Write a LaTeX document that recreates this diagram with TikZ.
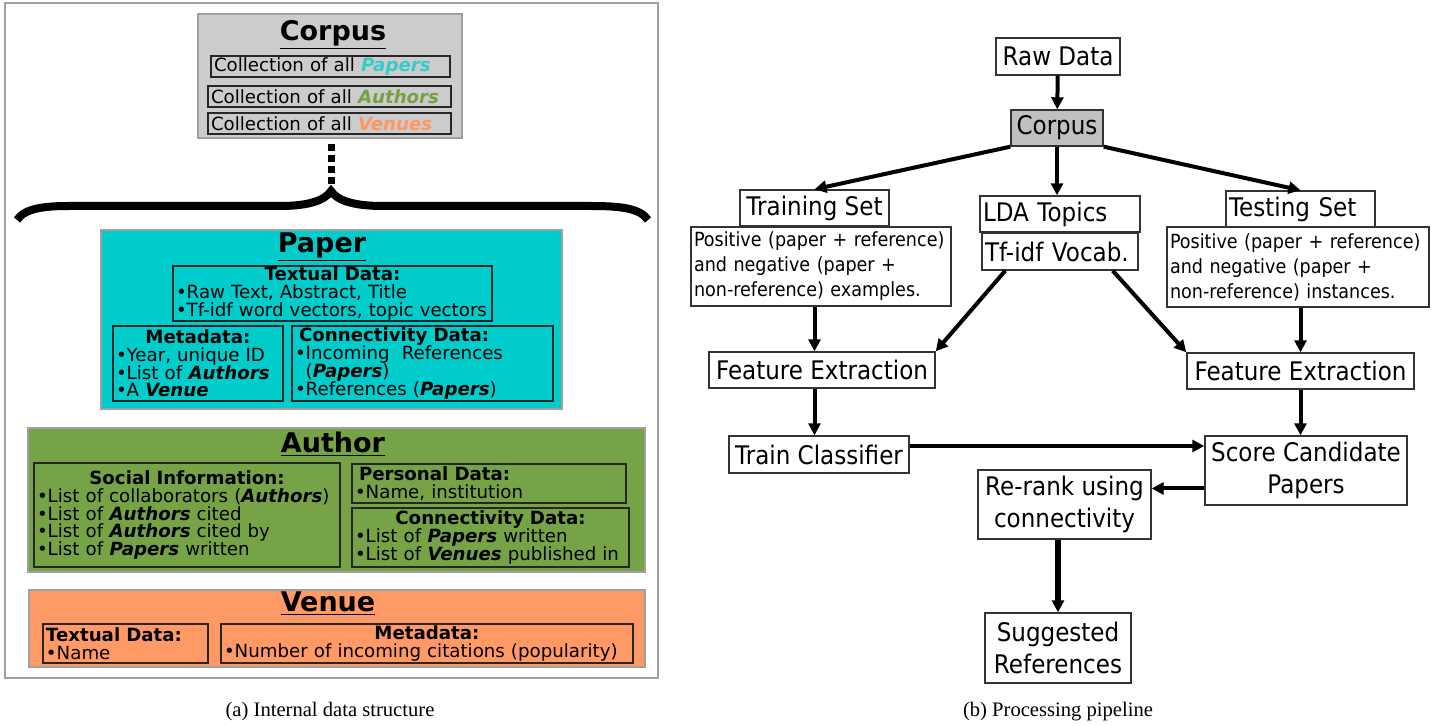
\documentclass[tikz,border=0pt]{standalone}
\usepackage{fontspec}
\setmainfont{DejaVu Sans}
\newfontfamily\pipefont[FakeStretch=0.9]{DejaVu Sans}
\newfontfamily\capfont{Liberation Serif}
\usetikzlibrary{arrows.meta, positioning, calc}
\definecolor{CG}{RGB}{204,204,204}
\definecolor{PC}{RGB}{0,204,204}
\definecolor{AG}{RGB}{119,163,71}
\definecolor{VO}{RGB}{255,153,102}
\definecolor{FG}{RGB}{160,160,160}
\definecolor{PG}{RGB}{192,192,192}
\definecolor{TC}{RGB}{51,204,204}
\definecolor{TG}{RGB}{119,160,70}
\definecolor{TO}{RGB}{255,150,100}
\newcommand\cellhead[1]{\makebox[\linewidth]{\bfseries #1}}
\newcommand\bline[1]{\mbox{•#1}}
\newcommand\emw[1]{\textbf{\textit{#1}}}

\begin{document}
\begin{tikzpicture}[x=0.5pt, y=-0.5pt,
  frame/.style={draw=FG, line width=0.8pt, inner sep=0pt},
  cell/.style={draw=black!85, line width=0.7pt, inner xsep=1.5pt, inner ysep=0pt,
               align=left, font=\fontsize{9.1}{8.9}\selectfont},
  ttl/.style={inner sep=0pt, font=\fontsize{13.5}{15}\selectfont\bfseries},
  stage/.style={draw=black!80, line width=0.7pt, inner xsep=1.5pt, inner ysep=0pt,
                align=center, font=\pipefont\fontsize{12.8}{16}\selectfont},
  note/.style={draw=black!80, line width=0.7pt, inner xsep=1.5pt, inner ysep=0pt,
               align=left, font=\pipefont\fontsize{9.75}{12.5}\selectfont},
  flow/.style={-{Triangle[length=6pt,width=6pt]}, line width=2pt},
  capt/.style={inner sep=0pt, font=\capfont\fontsize{10.3}{12}\selectfont}
]
\useasboundingbox (0,0) rectangle (1446,726);

% (a) data structure
\node[frame, minimum width=326.5pt, minimum height=337.5pt] (leftframe) at (331.5,340.5) {};

\node[frame, fill=CG, minimum width=132pt, minimum height=62pt] (corpus) at (330,76) {};
\node[ttl] (corpusttl) at (333,35) {\underline{Corpus}};
\node[cell, fill=CG, text width=116.5pt, minimum height=10.5pt] (allpapers) at (330.5,66.5)
  {Collection of all \textcolor{TC}{\emw{Papers}}};
\node[cell, fill=CG, text width=118.5pt, minimum height=10.5pt] (allauthors) at (329.5,96.5)
  {Collection of all \textcolor{TG}{\emw{Authors}}};
\node[cell, fill=CG, text width=118.5pt, minimum height=10.5pt] (allvenues) at (329.5,123.5)
  {Collection of all \textcolor{TO}{\emw{Venues}}};

\coordinate (bracetip) at (331,191);
\draw[line width=3.5pt, dash pattern=on 3.5pt off 2pt] ($(corpus.south)+(1,5)$) -- ($(bracetip)+(0,-7)$);
\draw[line width=4pt] (17,220) .. controls (25,208) and (45,206) .. (70,206) -- (280,206)
  .. controls (310,206) and (325,200) .. (bracetip)
  .. controls (337,200) and (352,206) .. (383,206) -- (590,206)
  .. controls (620,206) and (640,208) .. (648,220);

\node[frame, fill=PC, minimum width=230.5pt, minimum height=89.5pt] (paper) at (331.5,319.5) {};
\node[ttl] (paperttl) at (322,247) {\underline{Paper}};
\node[cell, text width=156.5pt, minimum height=27.5pt] (ptext) at (332.5,293.5)
  {\cellhead{Textual Data:}\\ \bline{Raw Text, Abstract, Title}\\ \bline{Tf-idf word vectors, topic vectors}};
\node[cell, text width=82pt, minimum height=37.5pt] (pmeta) at (198,363.5)
  {\cellhead{Metadata:}\\ \bline{Year, unique ID}\\ \bline{List of \emw{Authors}}\\ \bline{A \emw{Venue}}};
\node[cell, text width=127.5pt, minimum height=37.5pt] (pconn) at (422.5,363.5)
  {\hspace*{2pt}\textbf{Connectivity Data:}\\ \bline{Incoming\ \ References}\\ \mbox{\phantom{•}(\emw{Papers})}\\ \bline{References (\emw{Papers})}};

\node[frame, fill=AG, minimum width=308.5pt, minimum height=72pt] (author) at (336.5,500) {};
\node[ttl] (authorttl) at (333,444) {\underline{Author}};
\node[cell, text width=150pt, minimum height=52pt] (social) at (187,515)
  {\cellhead{Social Information:}\\ \bline{List of collaborators (\emw{Authors})}\\ \bline{List of \emw{Authors} cited}\\
   \bline{List of \emw{Authors} cited by}\\ \bline{List of \emw{Papers} written}};
\node[cell, text width=134pt, minimum height=19.5pt] (personal) at (489,483.5)
  {\hspace*{2pt}\textbf{Personal Data:}\\ \bline{Name, institution}};
\node[cell, text width=135.5pt, minimum height=29.5pt] (aconn) at (490.5,537.5)
  {\cellhead{Connectivity Data:}\\ \bline{List of \emw{Papers} written}\\ \bline{List of \emw{Venues} published in}};

\node[frame, fill=VO, minimum width=308pt, minimum height=38.5pt] (venue) at (337,628.5) {};
\node[ttl] (venuettl) at (328,604) {\underline{Venue}};
\node[cell, text width=79.5pt, minimum height=19.5pt] (vtext) at (125.5,643.5)
  {\textbf{Textual Data:}\\ \bline{Name}};
\node[cell, text width=203pt, minimum height=19.5pt] (vmeta) at (427,643.5)
  {\cellhead{Metadata:}\\ \bline{Number of incoming citations (popularity)}};

\node[capt] (capa) at (330,712) {(a) Internal data structure};

% (b) pipeline
\node[stage, minimum width=62pt, minimum height=18.5pt] (raw) at (1058,56.5) {Raw Data};
\node[stage, fill=PG, minimum width=46pt, minimum height=18pt] (pcorpus) at (1057,128) {Corpus};
\node[stage, minimum width=74.5pt, minimum height=18pt] (train) at (814.5,208) {Training Set};
\node[note, text width=127pt, minimum height=39.5pt] (trainex) at (821,266.5)
  {Positive (paper + reference)\\and negative (paper +\\non-reference) examples.};
\node[stage, text width=77pt, align=left, minimum height=18pt] (lda) at (1060,214) {LDA Topics};
\node[stage, text width=75pt, align=left, minimum height=18.5pt] (tfidf) at (1060,251.5) {Tf-idf Vocab.};
\node[stage, text width=71.5pt, align=left, minimum height=18pt] (test) at (1300.5,209) {Testing Set};
\node[note, text width=128pt, minimum height=40pt] (testex) at (1298,267)
  {Positive (paper + reference)\\and negative (paper +\\non-reference) instances.};
\node[stage, minimum width=113pt, minimum height=18pt] (fe1) at (822,370) {Feature Extraction};
\node[stage, minimum width=113.5pt, minimum height=18pt] (fe2) at (1300.5,371) {Feature Extraction};
\node[stage, minimum width=90pt, minimum height=18.5pt] (tc) at (819,454.5) {Train Classifier};
\node[stage, minimum width=101pt, minimum height=34.5pt] (score) at (1306,470.5) {Score Candidate\\Papers};
\node[stage, minimum width=86.5pt, minimum height=34.5pt] (rerank) at (1064.5,504.5) {Re-rank using\\connectivity};
\node[stage, minimum width=73pt, minimum height=35pt] (sugg) at (1058,648) {Suggested\\References};

\draw[flow] (raw) -- (pcorpus);
\draw[flow] (pcorpus.south west) -- (train.north);
\draw[flow] (pcorpus.south) -- (pcorpus.south |- lda.north);
\draw[flow] (pcorpus.south east) -- (test.north);
\draw[flow] ([xshift=12pt]tfidf.south west) -- (fe1.north east);
\draw[flow] ([xshift=-13pt]tfidf.south east) -- (fe2.north west);
\draw[flow] (trainex.south -| train) -- (fe1.north -| train);
\draw[flow] (testex.south -| test) -- (fe2.north -| test);
\draw[flow] (fe1.south -| train) -- (tc.north -| train);
\draw[flow] (fe2.south -| test) -- (score.north -| test);
\draw[flow] ([yshift=4.25pt]tc.east) -- ([yshift=4.25pt]tc.east -| score.west);
\draw[flow] ([yshift=-9pt]score.west) -- ([yshift=-9pt]score.west -| rerank.east);
\draw[flow, line width=3pt] (rerank.south -| sugg) -- (sugg.north);

\node[capt] (capb) at (1058,712) {(b) Processing pipeline};
\end{tikzpicture}
\end{document}
